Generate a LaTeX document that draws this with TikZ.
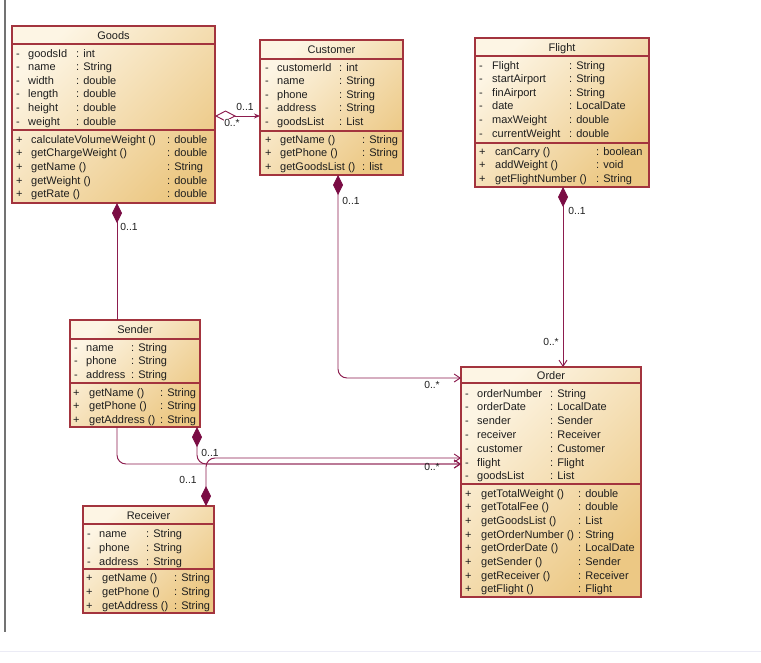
\documentclass[tikz,border=0pt]{standalone}
\usepackage{fontspec}
\setmainfont{Liberation Sans}
\usetikzlibrary{arrows.meta}
\definecolor{boxred}{RGB}{163,52,62}
\definecolor{assoc}{RGB}{140,28,78}
\definecolor{dia}{RGB}{122,12,68}
\definecolor{fillA}{RGB}{253,245,228}
\definecolor{fillB}{RGB}{236,200,132}
\definecolor{txtc}{RGB}{30,30,30}
\definecolor{frameg}{RGB}{115,115,115}
\definecolor{lineg}{RGB}{235,235,245}
\tikzset{
  dtip/.tip={Diamond[length=20pt,width=10pt,color=dia]},
  otip/.tip={Straight Barb[length=6pt,width=8pt]},
}
\newcommand\crow[8]{%
  \foreach \cname/\ctype [count=\ci] in {#8} {
    \node[txt] (#1-\ci-s) at (#3,{#6+#7*(\ci-1)+4}) {#2};
    \node[txt] (#1-\ci-n) at (#4,{#6+#7*(\ci-1)+4}) {\cname};
    \node[txt] (#1-\ci-t) at (#5,{#6+#7*(\ci-1)+4}) {: \ctype};
  }}
\begin{document}
\begin{tikzpicture}[x=1pt,y=-1pt,
  classbox/.style={draw=boxred, line width=1.1pt, inner sep=0pt, outer sep=0pt,
    anchor=north west, top color=fillA, bottom color=fillB, shading angle=45},
  txt/.style={anchor=base west, inner sep=0pt, font=\fontsize{11}{12}\selectfont, text=txtc},
  ttl/.style={anchor=base, inner sep=0pt, font=\fontsize{11}{12}\selectfont, text=txtc},
  sep/.style={draw=boxred, line width=1.1pt},
  lbl/.style={inner sep=0.6pt, font=\fontsize{10.3}{12}\selectfont, text=txtc},
  conn/.style={draw=assoc, line width=0.95pt, rounded corners=9pt},
]
\useasboundingbox (0,0) rectangle (761,662);
\fill[white] (0,0) rectangle (761,662);
\draw[frameg, line width=1.5pt] (5,0) -- (5,632);
\draw[lineg, line width=1pt] (0,651) -- (761,651);

% boxes
\node[classbox, minimum width=203pt, minimum height=177pt] (goods) at (12,26) {};
\node[classbox, minimum width=143pt, minimum height=135pt] (customer) at (260,40) {};
\node[classbox, minimum width=174pt, minimum height=149pt] (flight) at (475,38) {};
\node[classbox, minimum width=130pt, minimum height=107pt] (sender) at (70,320) {};
\node[classbox, minimum width=131pt, minimum height=107pt] (receiver) at (83,506) {};
\node[classbox, minimum width=180pt, minimum height=230pt] (order) at (461,367) {};

% separators
\draw[sep] (goods.west |- 0,44) -- (goods.east |- 0,44);
\draw[sep] (goods.west |- 0,130) -- (goods.east |- 0,130);
\draw[sep] (customer.west |- 0,59) -- (customer.east |- 0,59);
\draw[sep] (customer.west |- 0,131) -- (customer.east |- 0,131);
\draw[sep] (flight.west |- 0,56) -- (flight.east |- 0,56);
\draw[sep] (flight.west |- 0,143) -- (flight.east |- 0,143);
\draw[sep] (sender.west |- 0,339) -- (sender.east |- 0,339);
\draw[sep] (sender.west |- 0,383) -- (sender.east |- 0,383);
\draw[sep] (receiver.west |- 0,524) -- (receiver.east |- 0,524);
\draw[sep] (receiver.west |- 0,569) -- (receiver.east |- 0,569);
\draw[sep] (order.west |- 0,383) -- (order.east |- 0,383);
\draw[sep] (order.west |- 0,484) -- (order.east |- 0,484);

% titles
\node[ttl] (goods-title) at (goods.north |- 0,39) {Goods};
\node[ttl] (customer-title) at (customer.north |- 0,53.5) {Customer};
\node[ttl] (flight-title) at (flight.north |- 0,51) {Flight};
\node[ttl] (sender-title) at (sender.north |- 0,333.5) {Sender};
\node[ttl] (receiver-title) at (receiver.north |- 0,519) {Receiver};
\node[ttl] (order-title) at (order.north |- 0,379) {Order};

% rows
\crow{ga}{-}{16}{28}{76}{53}{13.6}{goodsId/int, name/String, width/double, length/double, height/double, weight/double}
\crow{gm}{+}{16}{31}{167}{139}{13.7}{calculateVolumeWeight ()/double, getChargeWeight ()/double, getName ()/String, getWeight ()/double, getRate ()/double}
\crow{ca}{-}{265}{277}{339}{67}{13.5}{customerId/int, name/String, phone/String, address/String, goodsList/List}
\crow{cm}{+}{265}{280}{362}{139}{13.5}{getName ()/String, getPhone ()/String, getGoodsList ()/list}
\crow{fa}{-}{479}{492}{569}{65}{13.6}{Flight/String, startAirport/String, finAirport/String, date/LocalDate, maxWeight/double, currentWeight/double}
\crow{fm}{+}{479}{495}{596}{151}{13.5}{canCarry ()/boolean, addWeight ()/void, getFlightNumber ()/String}
\crow{sa}{-}{74}{86}{131}{347}{13.5}{name/String, phone/String, address/String}
\crow{sm}{+}{73}{89}{160}{392}{13.5}{getName ()/String, getPhone ()/String, getAddress ()/String}
\crow{ra}{-}{87}{99}{146}{533}{14}{name/String, phone/String, address/String}
\crow{rm}{+}{86}{102}{174}{577}{14}{getName ()/String, getPhone ()/String, getAddress ()/String}
\crow{oa}{-}{465}{477}{550}{393}{13.8}{orderNumber/String, orderDate/LocalDate, sender/Sender, receiver/Receiver, customer/Customer, flight/Flight, goodsList/List}
\crow{om}{+}{465}{481}{578}{493}{13.7}{getTotalWeight ()/double, getTotalFee ()/double, getGoodsList ()/List, getOrderNumber ()/String, getOrderDate ()/LocalDate, getSender ()/Sender, getReceiver ()/Receiver, getFlight ()/Flight}

% connectors
\draw[conn, {Diamond[length=21pt,width=11pt,fill=white]}-{Stealth[length=6pt,width=5pt]}]
  (goods.east |- 0,116) -- (customer.west |- 0,116);
\draw[conn, {dtip}-] (117,0 |- goods.south) -- (117,0 |- sender.north);
\draw[conn, {dtip}-{otip}] (338,0 |- customer.south) -- (338,378) -- (order.west |- 0,378);
\draw[conn, {dtip}-{otip}] (563,0 |- flight.south) -- (563,0 |- order.north);
\draw[conn, -{otip}] (117,0 |- sender.south) -- (117,464) -- (order.west |- 0,464);
\draw[conn, {dtip}-{otip}] (197,0 |- sender.south) -- (197,464) -- (order.west |- 0,464);
\draw[conn, {dtip}-{otip}] (206,0 |- receiver.north) -- (206,458) -- (order.west |- 0,458);

% labels
\node[lbl] (l1) at (245,107) {0..1};
\node[lbl, fill=white] (l2) at (232,123) {0..*};
\node[lbl] (l3) at (129,227) {0..1};
\node[lbl] (l4) at (351,201) {0..1};
\node[lbl] (l5) at (432,385) {0..*};
\node[lbl] (l6) at (577,211) {0..1};
\node[lbl] (l7) at (551,342) {0..*};
\node[lbl] (l8) at (210,453) {0..1};
\node[lbl] (l9) at (188,480) {0..1};
\node[lbl] (l10) at (432,467) {0..*};
\end{tikzpicture}
\end{document}
